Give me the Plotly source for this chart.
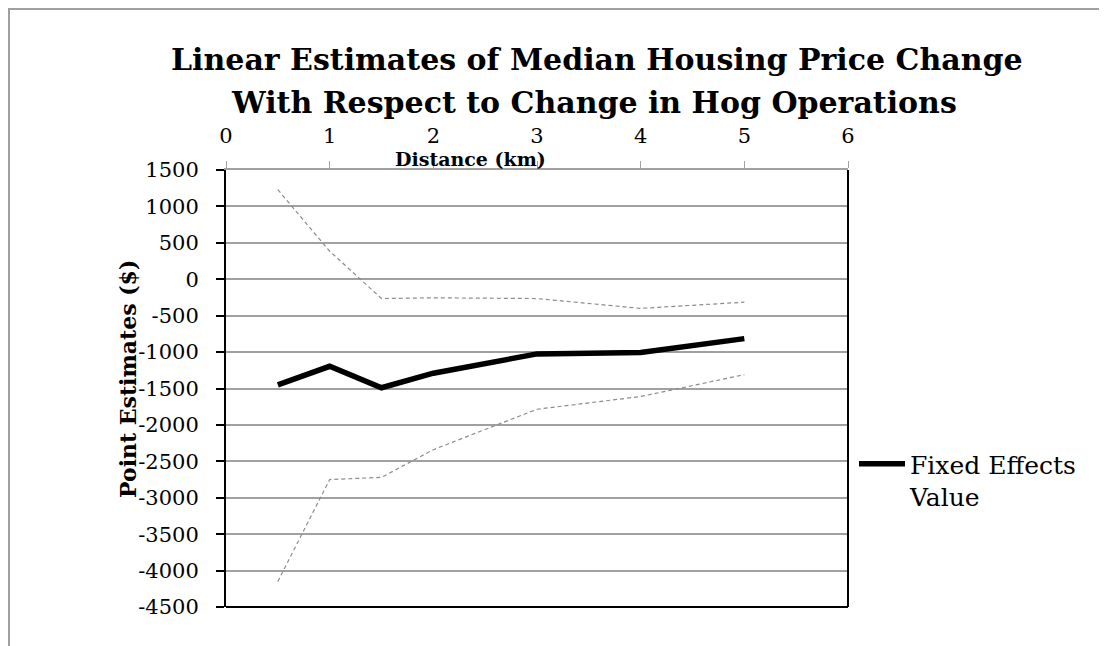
import plotly.graph_objects as go

distance_km = [0.5, 1, 1.5, 2, 3, 4, 5]
fixed_effects = [-1450, -1195, -1490, -1290, -1025, -1005, -815]
upper_bound = [1230, 385, -265, -255, -265, -400, -315]
lower_bound = [-4150, -2750, -2720, -2340, -1785, -1610, -1310]

x_ticks = [0, 1, 2, 3, 4, 5, 6]
y_ticks = [1500, 1000, 500, 0, -500, -1000, -1500, -2000, -2500,
           -3000, -3500, -4000, -4500]
y_tick_labels = ["1500", "1000", "500", "0", "-500", "-1000", "-1500", "-2000",
                 "-2500", "-3000", "-3500", "-4000", "-4500"]

title_lines = ["Linear Estimates of Median Housing Price Change",
               "With Respect to Change in Hog Operations"]
x_title = "Distance (km)"
y_title = "Point Estimates ($)"
legend_name = "Fixed Effects<br>Value"

W, H = 1107, 646
OX, OY = 8, 7  # page offset of the figure
L, R, T, B = 226 - OX, 848 - OX, 169 - OY, 606 - OY
FONT = "DejaVu Serif"

def px(xp):
    return (xp - OX - L) / (R - L)

def py(yp):
    return (B - (yp - OY)) / (B - T)

fig = go.Figure()
fig.add_trace(go.Scatter(x=distance_km, y=upper_bound, mode="lines",
                         line=dict(color="#8c8c8c", width=1.2, dash="4px,3px"),
                         showlegend=False, hoverinfo="skip"))
fig.add_trace(go.Scatter(x=distance_km, y=lower_bound, mode="lines",
                         line=dict(color="#8c8c8c", width=1.2, dash="4px,3px"),
                         showlegend=False, hoverinfo="skip"))
fig.add_trace(go.Scatter(x=distance_km, y=fixed_effects, mode="lines",
                         line=dict(color="black", width=5.5),
                         name=legend_name, showlegend=True))

fig.update_layout(
    width=W, height=H, autosize=False,
    margin=dict(l=L, r=W - R, t=T, b=H - B, pad=0),
    paper_bgcolor="white", plot_bgcolor="white",
    font=dict(family=FONT, size=21, color="black"),
    xaxis=dict(range=[0, 6], side="top", tickvals=x_ticks,
               showgrid=False, zeroline=False, showline=True,
               linecolor="#a0a0a0", linewidth=2, ticks="outside",
               ticklen=7, tickcolor="#a0a0a0", tickwidth=1,
               tickfont=dict(family=FONT, size=21), ticklabelstandoff=10,
               mirror=False),
    yaxis=dict(range=[-4500, 1500], tickvals=y_ticks, ticktext=y_tick_labels,
               showgrid=True, gridcolor="#a0a0a0", gridwidth=1.5,
               zeroline=False, showline=True, linecolor="black", linewidth=2,
               ticks="outside", ticklen=8, tickcolor="black", tickwidth=1.5,
               tickfont=dict(family=FONT, size=21), ticklabelstandoff=13),
    legend=dict(x=px(854), y=py(440), xanchor="left", yanchor="top",
                font=dict(family=FONT, size=25), bgcolor="rgba(0,0,0,0)",
                valign="top", itemwidth=46, tracegroupgap=0),
    showlegend=True,
)

# right and bottom plot borders
fig.add_shape(type="line", xref="paper", yref="paper", x0=1, x1=1, y0=0, y1=1,
              line=dict(color="black", width=2))
fig.add_shape(type="line", xref="paper", yref="paper", x0=0, x1=1, y0=0, y1=0,
              line=dict(color="black", width=2))
# outer chart frame
fig.add_shape(type="rect", xref="paper", yref="paper",
              x0=px(9), x1=px(1130), y0=py(8), y1=py(720),
              line=dict(color="#a0a0a0", width=2), layer="below")

fig.add_annotation(text="<b>" + title_lines[0] + "</b>", xref="paper", yref="paper",
                   x=px(597), y=py(59), xanchor="center", yanchor="middle",
                   showarrow=False, font=dict(family=FONT, size=30))
fig.add_annotation(text="<b>" + title_lines[1] + "</b>", xref="paper", yref="paper",
                   x=px(594), y=py(101), xanchor="center", yanchor="middle",
                   showarrow=False, font=dict(family=FONT, size=30))
fig.add_annotation(text="<b>" + x_title + "</b>", xref="paper", yref="paper",
                   x=px(470), y=py(158), xanchor="center", yanchor="middle",
                   showarrow=False, font=dict(family=FONT, size=19))
fig.add_annotation(text="<b>" + y_title + "</b>", xref="paper", yref="paper",
                   x=px(128), y=py(378), xanchor="center", yanchor="middle",
                   textangle=-90, showarrow=False, font=dict(family=FONT, size=22))

fig.write_html("out.html")
